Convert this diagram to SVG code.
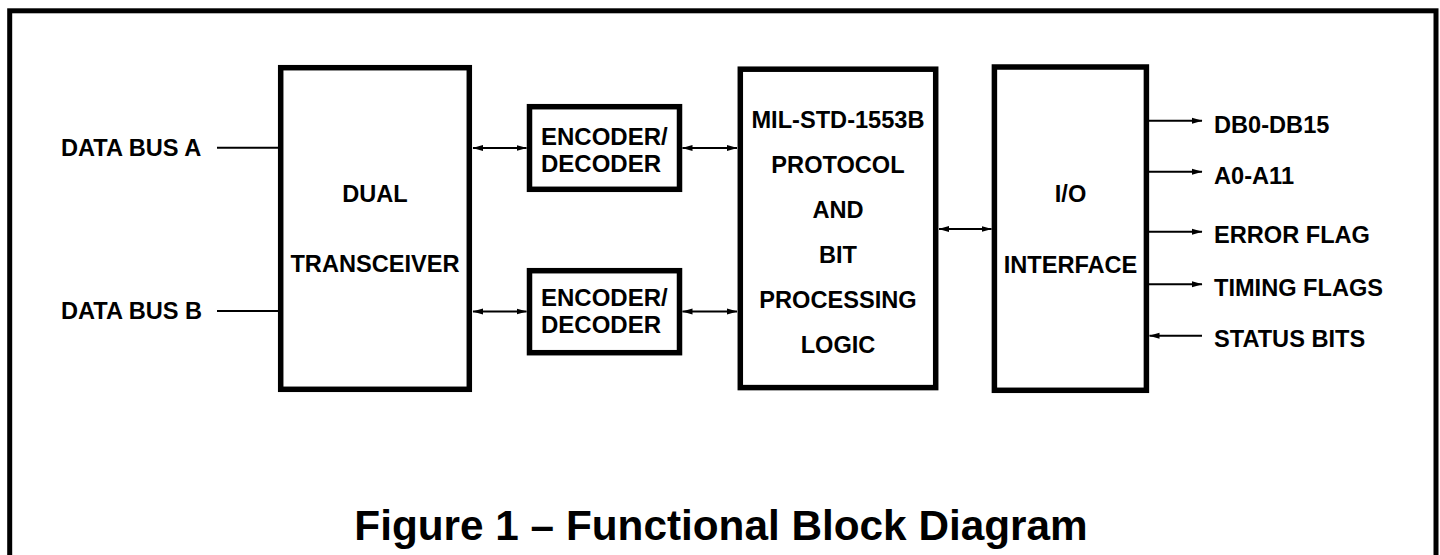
<svg xmlns="http://www.w3.org/2000/svg" width="1440" height="555" viewBox="0 0 1440 555">
<style>
  .box { fill: #fff; stroke: #000; stroke-width: 5.5; }
  .lbl { font-family: "Liberation Sans", Arial, sans-serif; font-weight: bold; font-size: 23.6px; fill: #000; }
  .enc { font-family: "Liberation Sans", Arial, sans-serif; font-weight: bold; font-size: 24px; fill: #000; }
  .mid { text-anchor: middle; }
  .wire { stroke: #000; stroke-width: 2; fill: none; }
  .title { font-family: "Liberation Sans", Arial, sans-serif; font-weight: bold; font-size: 42.3px; fill: #000; text-anchor: middle; }
</style>
<defs>
  <marker id="ah" markerUnits="userSpaceOnUse" markerWidth="11" markerHeight="7" refX="10" refY="3.5" orient="auto-start-reverse" viewBox="0 0 11 7">
    <path d="M0,0.5 L10.5,3.5 L0,6.5 z" fill="#000"/>
  </marker>
</defs>
<rect x="0" y="0" width="1440" height="555" fill="#fff"/>
<rect id="frame" x="9.7" y="10.8" width="1426.3" height="600" fill="none" stroke="#000" stroke-width="5"/>

<g id="connectors">
  <line class="wire" x1="217" y1="147.7" x2="278" y2="147.7"/>
  <line class="wire" x1="217" y1="311" x2="278" y2="311"/>
  <line class="wire" x1="473" y1="148" x2="526.5" y2="148" marker-start="url(#ah)" marker-end="url(#ah)"/>
  <line class="wire" x1="682.5" y1="148" x2="737" y2="148" marker-start="url(#ah)" marker-end="url(#ah)"/>
  <line class="wire" x1="473" y1="311.5" x2="526.5" y2="311.5" marker-start="url(#ah)" marker-end="url(#ah)"/>
  <line class="wire" x1="682.5" y1="311.5" x2="737" y2="311.5" marker-start="url(#ah)" marker-end="url(#ah)"/>
  <line class="wire" x1="939" y1="229" x2="991.5" y2="229" marker-start="url(#ah)" marker-end="url(#ah)"/>
  <line class="wire" x1="1149" y1="120.7" x2="1202" y2="120.7" marker-end="url(#ah)"/>
  <line class="wire" x1="1149" y1="171.7" x2="1202" y2="171.7" marker-end="url(#ah)"/>
  <line class="wire" x1="1149" y1="231.7" x2="1202" y2="231.7" marker-end="url(#ah)"/>
  <line class="wire" x1="1149" y1="284.3" x2="1202" y2="284.3" marker-end="url(#ah)"/>
  <line class="wire" x1="1202" y1="335.7" x2="1149.5" y2="335.7" marker-end="url(#ah)"/>
</g>

<g id="bus-labels">
  <text class="lbl" x="61" y="156">DATA BUS A</text>
  <text class="lbl" x="61" y="319">DATA BUS B</text>
</g>

<g id="transceiver">
  <rect class="box" x="280.7" y="67.7" width="188.6" height="321.6"/>
  <text class="lbl mid" x="375" y="202">DUAL</text>
  <text class="lbl mid" x="375" y="272">TRANSCEIVER</text>
</g>

<g id="encoder1">
  <rect class="box" x="529.5" y="106.7" width="150" height="82.6"/>
  <text class="enc" x="541" y="144.5">ENCODER/</text>
  <text class="enc" x="541" y="171.5">DECODER</text>
</g>

<g id="encoder2">
  <rect class="box" x="529.5" y="270.7" width="150" height="82"/>
  <text class="enc" x="541" y="306">ENCODER/</text>
  <text class="enc" x="541" y="333">DECODER</text>
</g>

<g id="protocol">
  <rect class="box" x="740.3" y="69.2" width="195.4" height="318.4"/>
  <text class="lbl mid" x="838" y="127.7">MIL-STD-1553B</text>
  <text class="lbl mid" x="838" y="172.7">PROTOCOL</text>
  <text class="lbl mid" x="838" y="217.7">AND</text>
  <text class="lbl mid" x="838" y="262.7">BIT</text>
  <text class="lbl mid" x="838" y="307.7">PROCESSING</text>
  <text class="lbl mid" x="838" y="352.7">LOGIC</text>
</g>

<g id="io">
  <rect class="box" x="994.4" y="67" width="152" height="323.3"/>
  <text class="lbl mid" x="1070.5" y="201.7">I/O</text>
  <text class="lbl mid" x="1070.5" y="272.7">INTERFACE</text>
</g>

<g id="io-labels">
  <text class="lbl" x="1214" y="132.7">DB0-DB15</text>
  <text class="lbl" x="1214" y="184">A0-A11</text>
  <text class="lbl" x="1214" y="243.3">ERROR FLAG</text>
  <text class="lbl" x="1214" y="296">TIMING FLAGS</text>
  <text class="lbl" x="1214" y="347.3">STATUS BITS</text>
</g>

<text class="title" x="721" y="540">Figure 1 – Functional Block Diagram</text>
</svg>
